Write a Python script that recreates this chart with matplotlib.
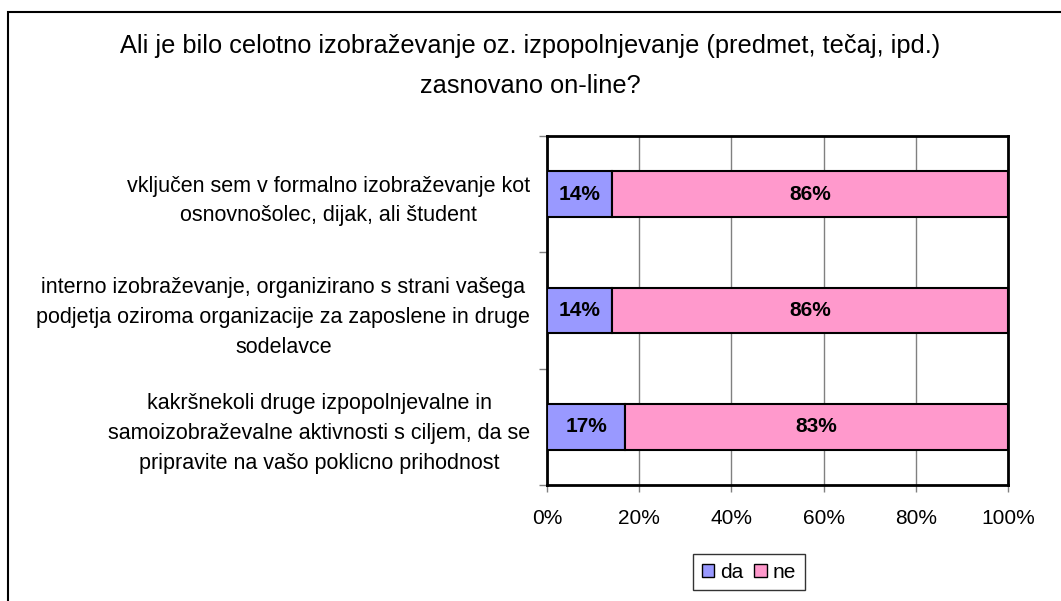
import matplotlib
matplotlib.use("Agg")
import matplotlib.pyplot as plt
from matplotlib.patches import Rectangle, Patch

categories = [
    "vključen sem v formalno izobraževanje kot\nosnovnošolec, dijak, ali študent",
    "interno izobraževanje, organizirano s strani vašega\npodjetja oziroma organizacije za zaposlene in druge\nsodelavce",
    "kakršnekoli druge izpopolnjevalne in\nsamoizobraževalne aktivnosti s ciljem, da se\npripravite na vašo poklicno prihodnost",
]
da = [14, 14, 17]
ne = [86, 86, 83]
series_names = ["da", "ne"]
title_lines = ["Ali je bilo celotno izobraževanje oz. izpopolnjevanje (predmet, tečaj, ipd.)",
               "zasnovano on-line?"]

plt.rcParams['font.family'] = ['Liberation Sans', 'DejaVu Sans']

W, H = 1061, 601
fig = plt.figure(figsize=(W/100, H/100), dpi=100)
ax = fig.add_axes([547/W, 1-485/H, (1008-547)/W, (485-136)/H])

c_da = "#9999FF"
c_ne = "#FF99CC"
y = list(range(len(categories)))
h = 0.39
ax.barh(y, da, height=h, color=c_da, edgecolor="black", linewidth=1.5, zorder=3)
ax.barh(y, ne, left=da, height=h, color=c_ne, edgecolor="black", linewidth=1.5, zorder=3)
for i in y:
    ax.text(da[i]/2, i, f"{da[i]}%", ha="center", va="center", fontsize=15, fontweight="bold", zorder=4)
    ax.text(da[i] + ne[i]/2, i, f"{ne[i]}%", ha="center", va="center", fontsize=15, fontweight="bold", zorder=4)

ax.set_xlim(0, 100)
ax.set_ylim(len(categories)-0.5, -0.5)
ax.set_xticks([0, 20, 40, 60, 80, 100])
ax.set_xticklabels([f"{v}%" for v in [0, 20, 40, 60, 80, 100]], fontsize=15)
ax.tick_params(axis="x", direction="out", length=5, width=1, color="gray", pad=12)
ax.set_yticks([-0.5, 0.5, 1.5, 2.5])
ax.set_yticklabels([])
ax.tick_params(axis="y", which="major", direction="out", length=6, width=1, color="gray")
ax.set_yticks(y, minor=True)
ax.set_yticklabels(categories, minor=True, fontsize=15.5, multialignment="center", linespacing=1.55)
ax.tick_params(axis="y", which="minor", length=0, pad=12)
ax.xaxis.grid(True, color="#808080", linewidth=1, zorder=0)
ax.set_axisbelow(True)
for s in ax.spines.values():
    s.set_linewidth(2)
    s.set_color("black")

fig.text(0.5, 1-46/H, title_lines[0], ha="center", va="center", fontsize=18.3)
fig.text(0.5, 1-86/H, title_lines[1], ha="center", va="center", fontsize=18.3)

handles = [Patch(facecolor=c_da, edgecolor="black"), Patch(facecolor=c_ne, edgecolor="black")]
leg = fig.legend(handles, series_names, loc="center", bbox_to_anchor=(749/W, 1-572/H), ncol=2,
                 fontsize=15, frameon=True, fancybox=False, edgecolor="black",
                 handlelength=0.6, handleheight=0.6, handletextpad=0.3, columnspacing=0.5,
                 borderpad=0.4)
leg.get_frame().set_linewidth(1)

fig.patches.append(Rectangle((8/W, -0.1), 1.2, 1.1 - 12/H, transform=fig.transFigure,
                             fill=False, edgecolor="black", linewidth=1.5))
fig.savefig("out.png", dpi=100, facecolor="white")
